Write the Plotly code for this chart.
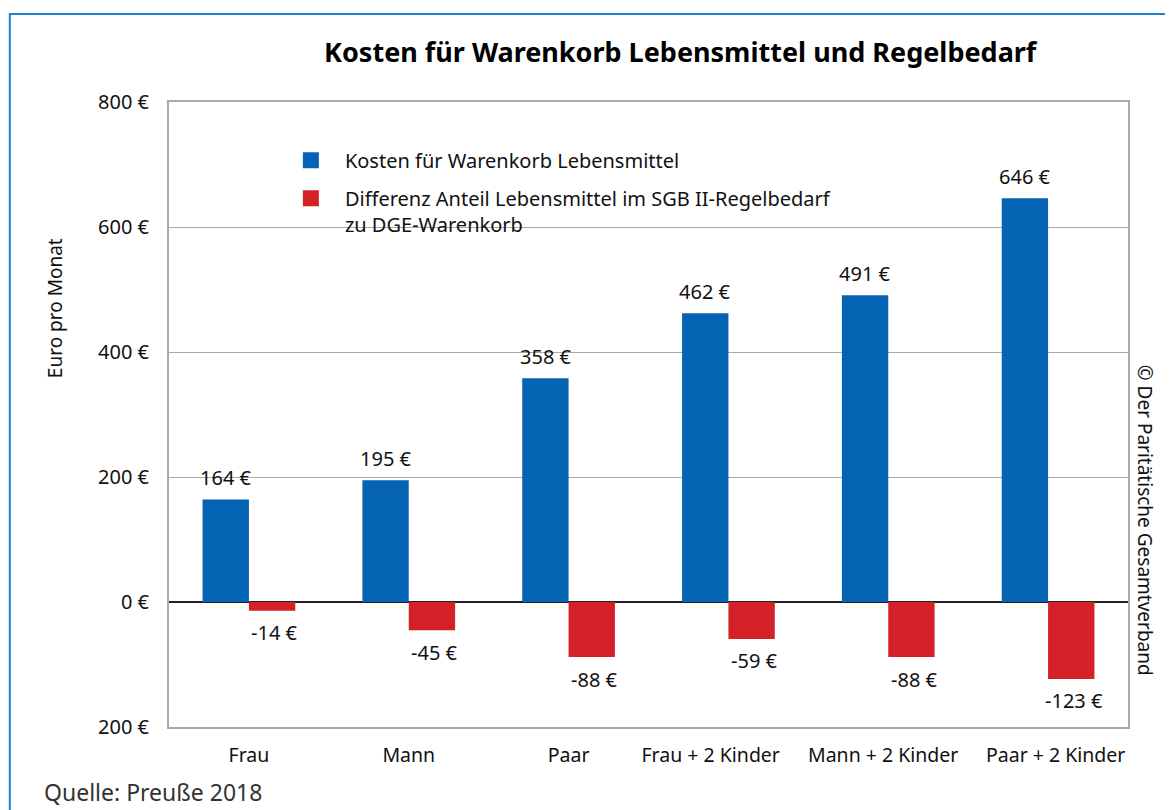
import plotly.graph_objects as go

categories = ["Frau", "Mann", "Paar", "Frau + 2 Kinder", "Mann + 2 Kinder", "Paar + 2 Kinder"]
kosten = [164, 195, 358, 462, 491, 646]
differenz = [-14, -45, -88, -59, -88, -123]

name_kosten = "Kosten für Warenkorb Lebensmittel"
name_diff = "Differenz Anteil Lebensmittel im SGB II-Regelbedarf<br>zu DGE-Warenkorb"

tick_vals = [-200, 0, 200, 400, 600, 800]
tick_text = ["200 €", "0 €", "200 €", "400 €", "600 €", "800 €"]

# the long category labels sit slightly off-centre in the original
nb = "\u00a0"
x_tick_text = ["Frau", "Mann", "Paar",
               "Frau + 2 Kinder" + nb * 7,
               "Mann + 2 Kinder" + nb * 2,
               nb * 3 + "Paar + 2 Kinder"]

blue = "#0563b3"
red = "#d42027"
font = "Noto Sans, Open Sans, sans-serif"

fig = go.Figure()
fig.add_trace(go.Bar(
    x=categories, y=kosten, name=name_kosten, showlegend=False,
    marker=dict(color=blue, line=dict(width=0)),
))
fig.add_trace(go.Bar(
    x=categories, y=differenz, name=name_diff, showlegend=False,
    marker=dict(color=red, line=dict(width=0)),
))
# legend entries with bigger square symbols
for nm, col in [(name_kosten, blue), (name_diff, red)]:
    fig.add_trace(go.Scatter(
        x=[None], y=[None], mode="markers", name=nm, legendgroup=nm,
        marker=dict(symbol="square", size=18, color=col),
    ))

# value labels, offset to each bar of the group
for cat, k, d in zip(categories, kosten, differenz):
    fig.add_annotation(x=cat, y=k, text=f"{k} €", showarrow=False,
                       xshift=-23, yshift=22, yanchor="middle",
                       font=dict(size=20, color="#111"))
    fig.add_annotation(x=cat, y=d, text=f"{d} €", showarrow=False,
                       xshift=26, yshift=-22, yanchor="middle",
                       font=dict(size=20, color="#111"))

fig.update_layout(
    width=1165, height=802,
    margin=dict(l=161, r=45, t=94, b=83, autoexpand=False),
    paper_bgcolor="white", plot_bgcolor="white",
    font=dict(family=font, size=20, color="#111"),
    barmode="group", bargap=0.42, bargroupgap=0,
    title=dict(text="<b>Kosten für Warenkorb Lebensmittel und Regelbedarf</b>",
               x=0.577, xanchor="center", y=0.945, yanchor="middle",
               font=dict(size=27, color="#000")),
    showlegend=True,
    legend=dict(x=0.1125, y=0.938, xanchor="left", yanchor="top",
                bgcolor="rgba(0,0,0,0)", font=dict(size=20),
                itemwidth=58, tracegroupgap=9, valign="top"),
)
fig.update_xaxes(
    tickvals=categories, ticktext=x_tick_text, tickangle=0, automargin=False,
    showline=True, linecolor="#a8abab", linewidth=2, mirror=True,
    ticks="", ticklabelstandoff=10, tickfont=dict(size=19.5),
)
fig.update_yaxes(
    range=[-200, 800], tickvals=tick_vals, ticktext=tick_text, automargin=False,
    showgrid=True, gridcolor="#a8abab", gridwidth=1,
    zeroline=True, zerolinecolor="#222", zerolinewidth=1.5,
    showline=True, linecolor="#a8abab", linewidth=2, mirror=True,
    ticks="", ticklabelstandoff=14, tickfont=dict(size=20),
)

# blue frame around the graphic (top and left edges visible)
fig.add_shape(type="rect", xref="paper", yref="paper",
              x0=-0.166, x1=1.2, y0=-0.2, y1=1.141,
              line=dict(color="#1e7fd0", width=2), layer="below")

fig.add_annotation(text="Euro pro Monat", xref="paper", yref="paper",
                   x=-0.119, y=0.67, textangle=-90, showarrow=False,
                   font=dict(size=19), xanchor="center", yanchor="middle")
fig.add_annotation(text="© Der Paritätische Gesamtverband", xref="paper", yref="paper",
                   x=1.002, y=0.33, textangle=90, showarrow=False,
                   font=dict(size=19), xanchor="left", yanchor="middle")
fig.add_annotation(text="Quelle: Preuße 2018", xref="paper", yref="paper",
                   x=-0.132, y=-0.104, showarrow=False, xanchor="left", yanchor="middle",
                   font=dict(size=23, color="#333"))

fig.write_html("out.html")
